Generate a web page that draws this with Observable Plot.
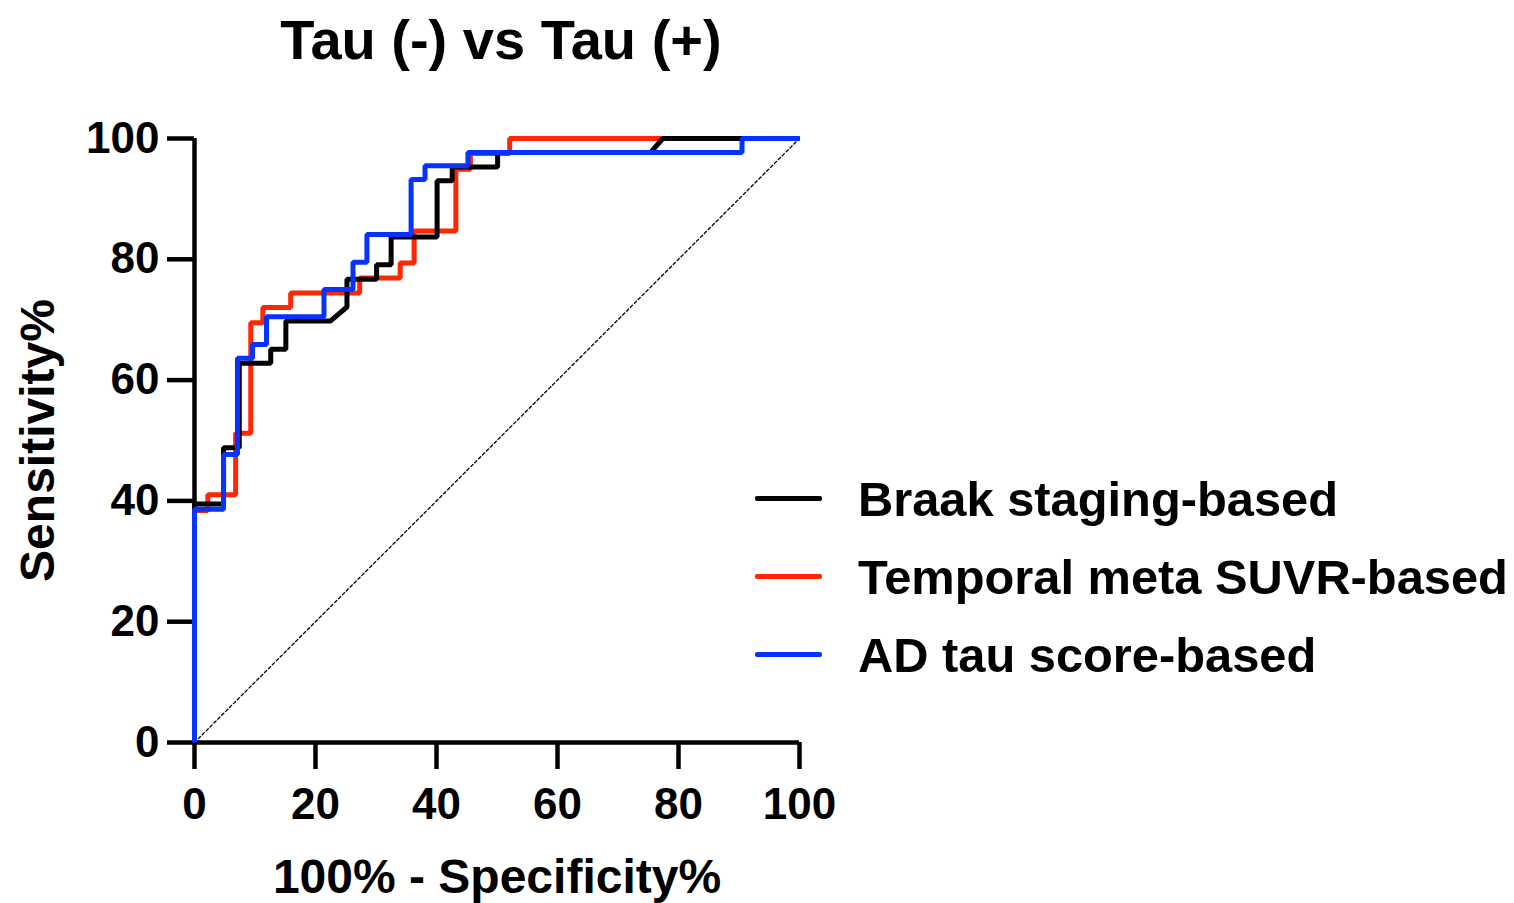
<!DOCTYPE html>
<html>
<head>
<meta charset="utf-8">
<script src="https://cdn.jsdelivr.net/npm/d3@7"></script>
<script src="https://cdn.jsdelivr.net/npm/@observablehq/plot@0.6"></script>
<style>
  body { margin: 0; background: #fff; font-family: "Liberation Sans", Arial, sans-serif; }
  #wrap { position: relative; width: 1514px; height: 903px; }
  #title { position: absolute; left: 0; top: 12px; width: 1002px; text-align: center;
           font-size: 56px; font-weight: bold; line-height: 1; color: #000; }
  .legrow { position: absolute; left: 755px; height: 48px; }
  .legline { position: absolute; left: 0; width: 67px; height: 5px; border-radius: 2px; }
  .legtext { position: absolute; left: 103px; top: 0; font-size: 48.8px; font-weight: bold;
             line-height: 1; white-space: nowrap; color: #000; }
</style>
</head>
<body>
<div id="wrap">
  <div id="title">Tau (-) vs Tau (+)</div>
</div>
<script>
// ---- data (100% - Specificity%, Sensitivity%) vertices of each ROC curve ----
const seriesNames = ["Braak staging-based", "Temporal meta SUVR-based", "AD tau score-based"];
const seriesColors = ["#000000", "#ff2600", "#0433ff"];

const braakFpr  = [0, 0, 4.8, 4.8, 7.4, 7.4, 12.6, 12.6, 15.1, 15.1, 22.5, 25.2, 25.2, 30.1, 30.1, 32.5, 32.5, 40.1, 40.1, 42.6, 42.6, 50.1, 50.1, 75.4, 77.4, 100];
const braakSens = [0, 39.5, 39.5, 48.8, 48.8, 62.8, 62.8, 65.1, 65.1, 69.8, 69.8, 72.1, 76.7, 76.7, 79.1, 79.1, 83.7, 83.7, 93.0, 93.0, 95.3, 95.3, 97.7, 97.7, 100, 100];

const metaFpr  = [0, 0, 2.2, 2.2, 6.8, 6.8, 9.3, 9.3, 11.3, 11.3, 15.9, 15.9, 27.3, 27.3, 34.0, 34.0, 36.3, 36.3, 43.2, 43.2, 45.6, 45.6, 52.1, 52.1, 100];
const metaSens = [0, 38.4, 38.4, 41.0, 41.0, 51.2, 51.2, 69.5, 69.5, 72.0, 72.0, 74.4, 74.4, 76.9, 76.9, 79.4, 79.4, 84.7, 84.7, 94.9, 94.9, 97.5, 97.5, 100, 100];

const adFpr  = [0, 0, 4.8, 4.8, 7.1, 7.1, 9.6, 9.6, 11.9, 11.9, 21.4, 21.4, 26.2, 26.2, 28.5, 28.5, 35.8, 35.8, 38.1, 38.1, 45.2, 45.2, 90.5, 90.5, 100];
const adSens = [0, 38.6, 38.6, 47.7, 47.7, 63.6, 63.6, 65.9, 65.9, 70.5, 70.5, 75.0, 75.0, 79.5, 79.5, 84.1, 84.1, 93.2, 93.2, 95.5, 95.5, 97.7, 97.7, 100, 100];

const chanceFpr  = [0, 100];
const chanceSens = [0, 100];

const xTicks = [0, 20, 40, 60, 80, 100];
const yTicks = [0, 20, 40, 60, 80, 100];
const xLabel = "100% - Specificity%";
const yLabel = "Sensitivity%";

// ---- build tables ----
const toRows = (xs, ys) => xs.map((x, i) => ({fpr: x, sens: ys[i]}));
const curves = [
  toRows(braakFpr, braakSens),
  toRows(metaFpr, metaSens),
  toRows(adFpr, adSens)
];
const chance = toRows(chanceFpr, chanceSens);
const drawOrder = [1, 0, 2]; // red under black, blue on top

const font = "Liberation Sans, Arial, sans-serif";

const chart = Plot.plot({
  width: 1514,
  height: 903,
  marginLeft: 194,
  marginRight: 715,
  marginTop: 138,
  marginBottom: 161,
  x: {domain: [0, 100]},
  y: {domain: [0, 100]},
  style: {fontFamily: font, color: "#000", background: "transparent", fontWeight: "bold", overflow: "visible"},
  marks: [
    Plot.line(chance, {x: "fpr", y: "sens", stroke: "#000", strokeWidth: 1.3, strokeDasharray: "3,2.5"}),
    Plot.ruleX([0], {stroke: "#000", strokeWidth: 4.5}),
    Plot.ruleY([0], {stroke: "#000", strokeWidth: 4.5}),
    Plot.axisX({ticks: xTicks, tickSize: 27, tickPadding: 18, strokeWidth: 4.5, fontSize: 44, fontWeight: "bold", label: null}),
    Plot.axisY({ticks: yTicks, tickSize: 27, tickPadding: 8, strokeWidth: 4.5, fontSize: 44, fontWeight: "bold", label: null}),
    ...drawOrder.map(i => Plot.line(curves[i], {
      x: "fpr", y: "sens", stroke: seriesColors[i], strokeWidth: 5,
      strokeLinejoin: "miter", strokeLinecap: "butt", curve: "linear"
    })),
    Plot.text([xLabel], {frameAnchor: "bottom", dy: 150, textAnchor: "middle", fontSize: 48, fontWeight: "bold", fill: "#000"}),
    Plot.text([yLabel], {frameAnchor: "left", dx: -156, textAnchor: "middle", rotate: -90, fontSize: 48, fontWeight: "bold", fill: "#000"})
  ]
});
chart.style.position = "absolute";
chart.style.left = "0px";
chart.style.top = "0px";
const wrap = document.getElementById("wrap");
wrap.insertBefore(chart, wrap.firstChild);

// ---- legend ----
const legTops = [475, 553, 631];
seriesNames.forEach((name, i) => {
  const row = document.createElement("div");
  row.className = "legrow";
  row.style.top = legTops[i] + "px";
  const ln = document.createElement("div");
  ln.className = "legline";
  ln.style.background = seriesColors[i];
  ln.style.top = "21px";
  const tx = document.createElement("div");
  tx.className = "legtext";
  tx.textContent = name;
  row.appendChild(ln);
  row.appendChild(tx);
  wrap.appendChild(row);
});
</script>
</body>
</html>
